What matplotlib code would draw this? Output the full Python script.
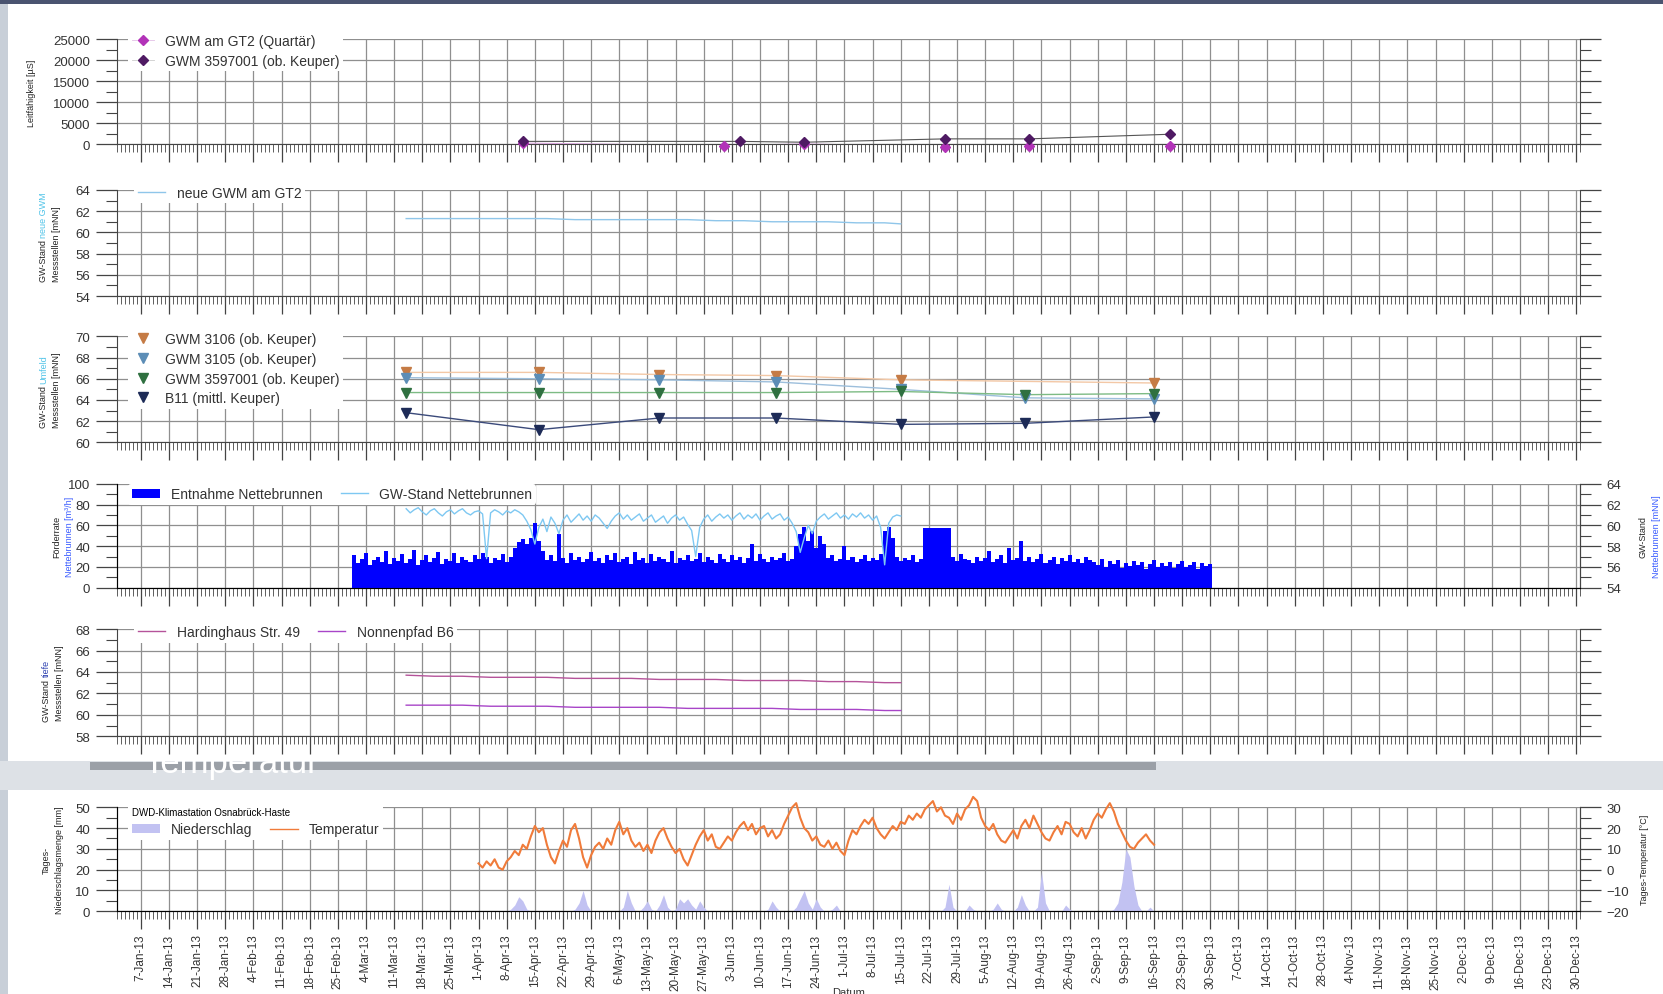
import numpy as np
import pandas as pd
import matplotlib
matplotlib.use("Agg")
import matplotlib.pyplot as plt
import matplotlib.dates as mdates
from matplotlib.lines import Line2D
from matplotlib.patches import Rectangle, Patch
from matplotlib.ticker import MultipleLocator, FuncFormatter

plt.rcParams['font.family'] = ['Liberation Sans', 'DejaVu Sans']

# %%
# DATA

# panel 1 - Leitfähigkeit
cond_dates_gt2 = ["2013-04-12", "2013-06-01", "2013-06-21", "2013-07-26", "2013-08-16", "2013-09-20"]
cond_gt2 = [300, -300, 100, -600, -500, -400]
cond_dates_3597 = ["2013-04-12", "2013-06-05", "2013-06-21", "2013-07-26", "2013-08-16", "2013-09-20"]
cond_3597 = [700, 700, 500, 1300, 1300, 2400]

# panels 2 and 5 - weekly readings of the logger wells
well_dates = ["2013-03-14", "2013-03-21", "2013-03-28", "2013-04-04", "2013-04-11", "2013-04-18",
              "2013-04-25", "2013-05-02", "2013-05-09", "2013-05-16", "2013-05-23", "2013-05-30",
              "2013-06-06", "2013-06-13", "2013-06-20", "2013-06-27", "2013-07-04", "2013-07-11",
              "2013-07-15"]
neue_gwm = [61.3, 61.3, 61.3, 61.3, 61.3, 61.3, 61.2, 61.2, 61.2, 61.2, 61.2, 61.1,
            61.1, 61.0, 61.0, 61.0, 60.9, 60.9, 60.8]
hardinghaus = [63.7, 63.6, 63.6, 63.5, 63.5, 63.5, 63.4, 63.4, 63.4, 63.3, 63.3, 63.3,
               63.2, 63.2, 63.2, 63.1, 63.1, 63.0, 63.0]
nonnenpfad = [60.9, 60.9, 60.9, 60.8, 60.8, 60.8, 60.7, 60.7, 60.7, 60.7, 60.6, 60.6,
              60.6, 60.6, 60.5, 60.5, 60.5, 60.4, 60.4]

# panel 3 - Stichtagsmessungen
stich_dates = ["2013-03-14", "2013-04-16", "2013-05-16", "2013-06-14", "2013-07-15", "2013-08-15", "2013-09-16"]
gwm3106_dates = ["2013-03-14", "2013-04-16", "2013-05-16", "2013-06-14", "2013-07-15", "2013-09-16"]
gwm3106 = [66.6, 66.6, 66.4, 66.3, 65.9, 65.6]
gwm3105 = [66.1, 66.0, 65.9, 65.7, 65.0, 64.2, 64.1]
gwm3597 = [64.7, 64.7, 64.7, 64.7, 64.8, 64.5, 64.6]
b11 = [62.8, 61.2, 62.3, 62.3, 61.7, 61.8, 62.4]

# panel 4 - Entnahme Nettebrunnen [m3/h], daily 1-Mar .. 30-Sep
entnahme_mar = [31, 24, 28, 33, 22, 27, 30, 25, 35, 23, 29, 26, 32, 24, 28, 36, 22, 27, 31, 25,
                29, 34, 23, 28, 26, 33, 24, 30, 27, 25, 31]
entnahme_apr = [28, 33, 30, 24, 29, 27, 32, 25, 30, 38, 44, 47, 42, 48, 62, 45, 35, 27, 31, 26,
                52, 29, 24, 33, 27, 30, 25, 28, 34, 26]
entnahme_may = [29, 24, 31, 27, 33, 25, 28, 30, 23, 34, 27, 29, 24, 32, 26, 30, 28, 25, 35, 24,
                29, 27, 31, 26, 28, 33, 25, 30, 27, 24, 32]
entnahme_jun = [28, 25, 31, 27, 30, 24, 29, 42, 26, 32, 28, 25, 30, 27, 29, 33, 26, 28, 40, 52,
                58, 45, 55, 38, 50, 42, 29, 31, 26, 28]
entnahme_jul = [40, 27, 30, 25, 28, 31, 26, 29, 27, 32, 55, 58, 48, 30, 26, 29, 27, 31, 25, 28,
                57, 57, 57, 57, 57, 57, 57, 30, 26, 32, 28]
entnahme_aug = [27, 24, 30, 26, 29, 35, 25, 28, 31, 24, 38, 27, 29, 45, 26, 30, 25, 28, 32, 24,
                27, 30, 23, 29, 26, 31, 25, 28, 24, 30, 27]
entnahme_sep = [25, 22, 28, 20, 26, 23, 27, 19, 24, 21, 26, 22, 25, 18, 23, 27, 20, 24, 21, 25,
                19, 23, 26, 20, 22, 25, 18, 24, 21, 23]

# GW-Stand Nettebrunnen [mNN], daily 14-Mar .. 15-Jul
gw_nette_mar = [61.6, 61.2, 61.5, 61.7, 61.3, 61.0, 61.4, 61.6, 61.2, 60.9, 61.3, 61.5, 61.1, 61.4,
                61.6, 61.2, 61.0, 61.3]
gw_nette_apr = [61.4, 61.1, 56.8, 61.2, 61.5, 61.3, 61.0, 61.4, 61.2, 61.5, 61.3, 61.0, 60.4, 59.6,
                58.2, 59.8, 60.6, 59.4, 60.8, 60.2, 59.2, 60.5, 61.0, 60.3, 60.7, 61.1, 60.5, 60.9,
                60.4, 61.0]
gw_nette_may = [60.7, 60.2, 59.7, 60.4, 60.9, 61.2, 60.6, 61.0, 60.5, 60.8, 61.1, 60.4, 60.7, 61.0,
                60.3, 60.6, 60.9, 60.2, 60.7, 61.0, 60.5, 60.8, 60.1, 59.5, 57.0, 59.8, 60.6, 61.0,
                60.4, 60.8, 61.1]
gw_nette_jun = [60.7, 61.0, 60.5, 60.9, 61.2, 60.6, 61.0, 60.7, 61.1, 60.5, 60.9, 61.2, 60.6, 60.9,
                61.1, 60.5, 60.8, 60.2, 59.4, 57.4, 58.8, 60.0, 59.2, 60.4, 60.8, 61.1, 60.6, 60.9,
                61.2, 60.7]
gw_nette_jul = [61.0, 60.6, 61.1, 60.8, 61.2, 60.7, 61.0, 60.5, 60.9, 59.8, 56.2, 60.2, 60.8, 61.0, 60.9]

# panel 6 - DWD Osnabrück-Haste, daily 1-Apr .. 16-Sep
temp_apr = [3, 1, 4, 2, 5, 1, 0, 4, 6, 9, 7, 12, 10, 16, 21, 18, 20, 12, 6, 3, 9, 14, 11, 19, 22, 15, 6, 1, 7, 11]
temp_may = [13, 10, 15, 12, 19, 23, 17, 20, 14, 11, 13, 9, 12, 8, 14, 18, 20, 15, 11, 8, 10, 5, 2, 7, 12,
            16, 19, 14, 17, 11, 10]
temp_jun = [13, 16, 14, 18, 21, 23, 19, 22, 17, 20, 21, 16, 19, 15, 17, 22, 26, 30, 32, 25, 20, 18, 14, 16,
            12, 11, 14, 10, 13, 9]
temp_jul = [7, 14, 19, 17, 21, 24, 22, 25, 20, 17, 15, 18, 21, 19, 23, 22, 26, 24, 27, 25, 29, 31, 33, 28,
            30, 26, 25, 22, 27, 24, 29]
temp_aug = [31, 35, 33, 25, 21, 19, 22, 17, 14, 13, 16, 19, 15, 21, 24, 20, 26, 22, 18, 15, 14, 18, 21, 17,
            23, 22, 18, 16, 20, 15, 19]
temp_sep = [24, 27, 25, 29, 32, 28, 22, 18, 14, 11, 10, 13, 15, 17, 14, 12]

rain_apr = [0, 0, 0, 0, 0, 0, 0, 0, 1, 3, 7, 5, 1, 0, 0, 0, 0, 0, 0, 0, 0, 0, 0, 0, 1, 4, 10, 3, 0, 0]
rain_may = [0, 0, 0, 0, 0, 0, 2, 10, 4, 0, 0, 2, 5, 1, 0, 3, 8, 2, 0, 1, 6, 4, 6, 3, 1, 5, 2, 0, 0, 0, 0]
rain_jun = [0, 0, 0, 0, 0, 0, 0, 0, 0, 0, 0, 1, 5, 2, 0, 0, 0, 0, 2, 6, 10, 4, 1, 6, 2, 0, 0, 1, 3, 0]
rain_jul = [0, 0, 0, 0, 0, 0, 0, 0, 0, 0, 0, 0, 0, 0, 0, 0, 0, 0, 0, 0, 0, 0, 0, 0, 0, 2, 13, 2, 0, 0, 0]
rain_aug = [3, 1, 0, 0, 0, 0, 1, 4, 1, 0, 0, 0, 2, 8, 3, 0, 0, 2, 19, 4, 0, 0, 0, 0, 3, 1, 0, 0, 0, 0, 0]
rain_sep = [0, 0, 0, 0, 0, 1, 4, 14, 30, 26, 12, 3, 0, 0, 2, 0]

# %%
# assemble series
entnahme = entnahme_mar + entnahme_apr + entnahme_may + entnahme_jun + entnahme_jul + entnahme_aug + entnahme_sep
entnahme_dates = pd.date_range("2013-03-01", periods=len(entnahme), freq="D")
gw_nette = gw_nette_mar + gw_nette_apr + gw_nette_may + gw_nette_jun + gw_nette_jul
gw_nette_dates = pd.date_range("2013-03-14", periods=len(gw_nette), freq="D")
temp = temp_apr + temp_may + temp_jun + temp_jul + temp_aug + temp_sep
rain = rain_apr + rain_may + rain_jun + rain_jul + rain_aug + rain_sep
dwd_dates = pd.date_range("2013-04-01", periods=len(temp), freq="D")

X_START = pd.Timestamp("2013-01-01")
X_END = pd.Timestamp("2013-12-31")

# %%
# layout measured on the 1568x938 view of the reference
W, H = 1568.0, 938.0

def fx(px):
    return px / W

def fy(px):
    return 1 - px / H

fig = plt.figure(figsize=(16.63, 9.95), dpi=100)
fig.patch.set_facecolor("white")

# slide background around the chart
fig.add_artist(Rectangle((0, 0), fx(8), 1, transform=fig.transFigure, color="#c8cfd8", zorder=-2, lw=0))
fig.add_artist(Rectangle((0, fy(5)), 1, fy(0) - fy(5), transform=fig.transFigure, color="#4a5470", zorder=-2, lw=0))
fig.add_artist(Rectangle((0, fy(746)), 1, fy(718) - fy(746), transform=fig.transFigure, color="#dde1e6", zorder=-2, lw=0))
fig.add_artist(Rectangle((fx(85), fy(727)), fx(1090) - fx(85), fy(719) - fy(727), transform=fig.transFigure,
                         color="#9ba0a7", zorder=-1.9, lw=0))
fig.text(fx(135), fy(729), "Temperatur", color="white", fontsize=25, va="baseline", zorder=-1.5)

panels_px = [(38, 137), (180, 280), (318, 418), (457, 555), (594, 695), (762, 860)]
axes = [fig.add_axes([fx(110), fy(b), fx(1490) - fx(110), (b - t) / H]) for t, b in panels_px]

GRID = "#8f8f8f"
TICK = "#444444"


def date_label(x, pos):
    d = mdates.num2date(x)
    return f"{d.day}-{d.strftime('%b-%y')}"


def style_axis(ax, ymin, ymax, ystep, yminor, right_ticks=True):
    ax.set_xlim(X_START, X_END)
    ax.set_ylim(ymin, ymax)
    ax.yaxis.set_major_locator(MultipleLocator(ystep))
    ax.yaxis.set_minor_locator(MultipleLocator(yminor))
    ax.xaxis.set_major_locator(mdates.WeekdayLocator(byweekday=mdates.MO))
    ax.xaxis.set_minor_locator(mdates.DayLocator())
    ax.xaxis.set_major_formatter(FuncFormatter(date_label))
    ax.grid(True, which="major", color=GRID, lw=0.9)
    ax.set_axisbelow(True)
    ax.spines["top"].set_visible(False)
    for s in ["left", "right", "bottom"]:
        ax.spines[s].set_color(TICK)
    ax.tick_params(axis="x", which="major", direction="out", length=13, width=0.9, color=TICK,
                   labelbottom=False)
    ax.tick_params(axis="x", which="minor", direction="out", length=6, width=0.6, color=TICK)
    ax.tick_params(axis="y", which="major", direction="out", length=15, width=0.9, color=TICK,
                   right=right_ticks, labelsize=9.5, labelcolor="#333333", pad=4)
    ax.tick_params(axis="y", which="minor", direction="out", length=8, width=0.8, color=TICK,
                   right=right_ticks)


def style_twin(ax2, ymin, ymax, ystep, yminor):
    ax2.set_ylim(ymin, ymax)
    ax2.yaxis.set_major_locator(MultipleLocator(ystep))
    ax2.yaxis.set_minor_locator(MultipleLocator(yminor))
    ax2.spines["top"].set_visible(False)
    ax2.spines["right"].set_color(TICK)
    ax2.tick_params(axis="y", which="major", direction="out", length=15, width=0.9, color=TICK,
                    labelsize=9.5, labelcolor="#333333", pad=4)
    ax2.tick_params(axis="y", which="minor", direction="out", length=8, width=0.8, color=TICK)


def ylabel_lines(ax, x, parts, size=6.5):
    # each line: (first part, colour), optional (second part, colour)
    for xpos, line in zip(x, parts):
        if len(line) == 1:
            ax.text(xpos, 0.5, line[0][0], color=line[0][1], rotation=90, fontsize=size,
                    transform=ax.transAxes, ha="center", va="center")
        else:
            ax.text(xpos, 0.56, line[0][0] + " ", color=line[0][1], rotation=90, fontsize=size,
                    transform=ax.transAxes, ha="right", va="center", rotation_mode="anchor")
            ax.text(xpos, 0.56, line[1][0], color=line[1][1], rotation=90, fontsize=size,
                    transform=ax.transAxes, ha="left", va="center", rotation_mode="anchor")


def legend(ax, handles, anchor, ncol=1, **kw):
    leg = ax.legend(handles=handles, loc="upper left", bbox_to_anchor=anchor, ncol=ncol,
                    fontsize=10, frameon=True, facecolor="white", edgecolor="none", framealpha=1,
                    borderaxespad=0, borderpad=0.25, labelspacing=0.42, handletextpad=0.8,
                    columnspacing=1.3, labelcolor="#333333", **kw)
    leg.set_zorder(10)
    return leg


# %%
# panel 1 - Leitfähigkeit
ax = axes[0]
style_axis(ax, 0, 25000, 5000, 2500)
c_gt2, c_3597 = "#b233b8", "#4f1a63"
ax.plot(pd.to_datetime(cond_dates_gt2), cond_gt2, color="#d9a6dc", lw=0.8, zorder=3)
ax.plot(pd.to_datetime(cond_dates_3597), cond_3597, color="#555555", lw=0.8, zorder=3)
ax.plot(pd.to_datetime(cond_dates_gt2), cond_gt2, ls="none", marker="D", ms=5.5, color=c_gt2,
        clip_on=False, zorder=4)
ax.plot(pd.to_datetime(cond_dates_3597), cond_3597, ls="none", marker="D", ms=5.5, color=c_3597,
        clip_on=False, zorder=5)
legend(ax, [Line2D([], [], color="#e3c0e6", lw=0.6, marker="D", ms=5.5, mfc=c_gt2, mec=c_gt2,
                   label="GWM am GT2 (Quartär)"),
            Line2D([], [], color="#cccccc", lw=0.6, marker="D", ms=5.5, mfc=c_3597, mec=c_3597,
                   label="GWM 3597001 (ob. Keuper)")],
       (0.008, 1.085), handlelength=1.6)
ylabel_lines(ax, [-0.058], [[("Leitfähigkeit [µS]", "#222222")]])

# panel 2 - neue GWM am GT2
ax = axes[1]
style_axis(ax, 54, 64, 2, 1)
ax.plot(pd.to_datetime(well_dates), neue_gwm, color="#8fc6ea", lw=1.0, zorder=3)
legend(ax, [Line2D([], [], color="#8fc6ea", lw=1.0, label="neue GWM am GT2")], (0.012, 1.07))
ylabel_lines(ax, [-0.050, -0.041], [[("GW-Stand", "#222222"), ("neue GWM", "#4fc3e8")],
                                    [("Messstellen [mNN]", "#222222")]])

# panel 3 - Stichtagsmessungen
ax = axes[2]
style_axis(ax, 60, 70, 2, 1)
sd = pd.to_datetime(stich_dates)
series3 = [
    (pd.to_datetime(gwm3106_dates), gwm3106, "#c57b45", "#f3c8a6", "GWM 3106 (ob. Keuper)"),
    (sd, gwm3105, "#5c8db6", "#9dbfdc", "GWM 3105 (ob. Keuper)"),
    (sd, gwm3597, "#2f7040", "#7dbb84", "GWM 3597001 (ob. Keuper)"),
    (sd, b11, "#1d2b57", "#3b4a7a", "B11 (mittl. Keuper)"),
]
handles3 = []
for dts, vals, mc, lc, lab in series3:
    ax.plot(dts, vals, color=lc, lw=1.0, zorder=3)
    ax.plot(dts, vals, ls="none", marker="v", ms=6.5, color=mc, zorder=4)
    handles3.append(Line2D([], [], ls="none", marker="v", ms=6.5, color=mc, label=lab))
legend(ax, handles3, (0.008, 1.075), handlelength=1.6)
ylabel_lines(ax, [-0.050, -0.041], [[("GW-Stand", "#222222"), ("Umfeld", "#4fc3e8")],
                                    [("Messstellen [mNN]", "#222222")]])

# panel 4 - Nettebrunnen
ax = axes[3]
style_axis(ax, 0, 100, 20, 10, right_ticks=False)
ax.bar(entnahme_dates, entnahme, width=1.0, color="#0000ff", lw=0, zorder=3)
ax2 = ax.twinx()
style_twin(ax2, 54, 64, 2, 1)
ax2.plot(gw_nette_dates, gw_nette, color="#7ec8f2", lw=1.0, zorder=3)
ax2.set_xlim(X_START, X_END)
legend(ax2, [Patch(facecolor="#0000ff", edgecolor="none", label="Entnahme Nettebrunnen"),
             Line2D([], [], color="#7ec8f2", lw=1.0, label="GW-Stand Nettebrunnen")],
       (0.008, 1.0), ncol=2)
ylabel_lines(ax, [-0.041, -0.032], [[("Förderrate", "#222222")],
                                    [("Nettebrunnen [m³/h]", "#3a5cff")]])
ylabel_lines(ax, [1.043, 1.052], [[("GW-Stand", "#222222")],
                                  [("Nettebrunnen [mNN]", "#3a5cff")]])

# panel 5 - Hardinghaus / Nonnenpfad
ax = axes[4]
style_axis(ax, 58, 68, 2, 1)
ax.plot(pd.to_datetime(well_dates), hardinghaus, color="#b5539a", lw=1.0, zorder=3)
ax.plot(pd.to_datetime(well_dates), nonnenpfad, color="#a845c8", lw=1.0, zorder=3)
legend(ax, [Line2D([], [], color="#b5539a", lw=1.0, label="Hardinghaus Str. 49"),
            Line2D([], [], color="#a845c8", lw=1.0, label="Nonnenpfad B6")],
       (0.012, 1.07), ncol=2)
ylabel_lines(ax, [-0.048, -0.039], [[("GW-Stand", "#222222"), ("tiefe", "#2b3fb0")],
                                    [("Messstellen [mNN]", "#222222")]])

# panel 6 - DWD Klimastation
ax = axes[5]
style_axis(ax, 0, 50, 10, 5, right_ticks=False)
ax.fill_between(dwd_dates, 0, rain, color="#c2c2f2", lw=0, zorder=3)
ax.tick_params(axis="x", which="major", labelbottom=True, labelsize=8.5, labelrotation=90,
               labelcolor="#333333", pad=3)
ax2 = ax.twinx()
style_twin(ax2, -20, 30, 10, 5)
ax2.plot(dwd_dates, temp, color="#f07b3a", lw=1.5, zorder=3, clip_on=False)
ax2.set_xlim(X_START, X_END)
leg = legend(ax2, [Patch(facecolor="#c2c2f2", edgecolor="none", label="Niederschlag"),
                   Line2D([], [], color="#f07b3a", lw=1.0, label="Temperatur")],
             (0.008, 1.04), ncol=2, title="DWD-Klimastation Osnabrück-Haste", title_fontsize=7)
leg._legend_box.align = "left"
ylabel_lines(ax, [-0.048, -0.039], [[("Tages-", "#222222")],
                                    [("Niederschlagsmenge [mm]", "#222222")]])
ylabel_lines(ax, [1.044], [[("Tages-Temperatur [°C]", "#222222")]])

fig.text(fx(800), fy(936), "Datum", fontsize=8, ha="center", va="center", color="#333333")

fig.savefig("out.png", dpi=100, facecolor=fig.get_facecolor())
